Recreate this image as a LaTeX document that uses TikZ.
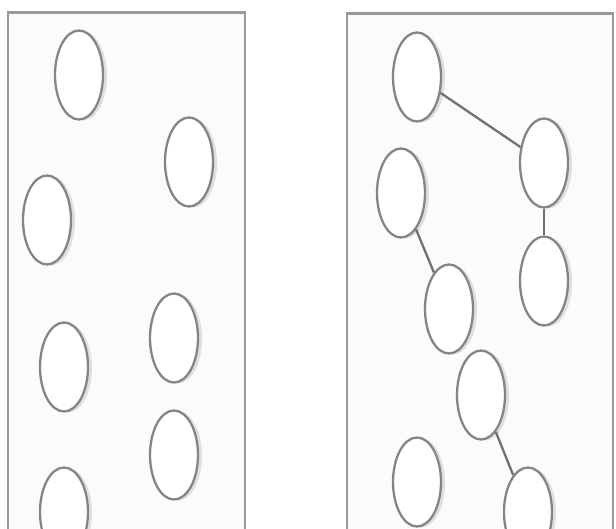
\documentclass[tikz,border=0pt]{standalone}
\usetikzlibrary{shapes.geometric,shadows}
\definecolor{strokegray}{HTML}{858585}
\definecolor{panelgray}{HTML}{999999}
\definecolor{panelfill}{HTML}{FBFBFB}
\tikzset{
  panel/.style={draw=panelgray, line width=2pt, fill=panelfill},
  blob/.style={ellipse, draw=strokegray, line width=2.3pt, fill=white,
    minimum width=48pt, minimum height=89pt, inner sep=0pt,
    drop shadow={shadow xshift=4pt, shadow yshift=-1pt, opacity=0.22, fill=gray}},
  link/.style={draw=strokegray!85!black, line width=2.3pt}
}
\begin{document}
\begin{tikzpicture}[x=1pt,y=-1pt]
\useasboundingbox (0,0) rectangle (616,529);
\clip (0,0) rectangle (616,529);
\fill[white] (0,0) rectangle (616,529);
% panels
\draw[panel] (8,12) rectangle (245,560);
\draw[panel] (347,13) rectangle (613,560);
\draw[panelgray, line width=1pt] (8,13.5) -- (245,13.5) (347,14.5) -- (613,14.5);
% left panel ellipses
\node[blob] (l1) at (79,75) {};
\node[blob] (l2) at (189,162) {};
\node[blob] (l3) at (47,220) {};
\node[blob] (l4) at (64,367) {};
\node[blob] (l5) at (174,338) {};
\node[blob] (l6) at (174,455) {};
\node[blob] (l7) at (64,512) {};
% right panel ellipses
\node[blob] (a) at (417,77) {};
\node[blob] (b) at (544,163) {};
\node[blob] (c) at (401,193) {};
\node[blob] (d) at (544,281) {};
\node[blob] (e) at (449,309) {};
\node[blob] (f) at (481,395) {};
\node[blob] (g) at (417,482) {};
\node[blob] (h) at (528,512) {};
% connectors
\draw[link] (a) -- (b);
\draw[link] (b) -- (d);
\draw[link] (c) -- (e);
\draw[link] (f) -- (h);
\end{tikzpicture}
\end{document}
